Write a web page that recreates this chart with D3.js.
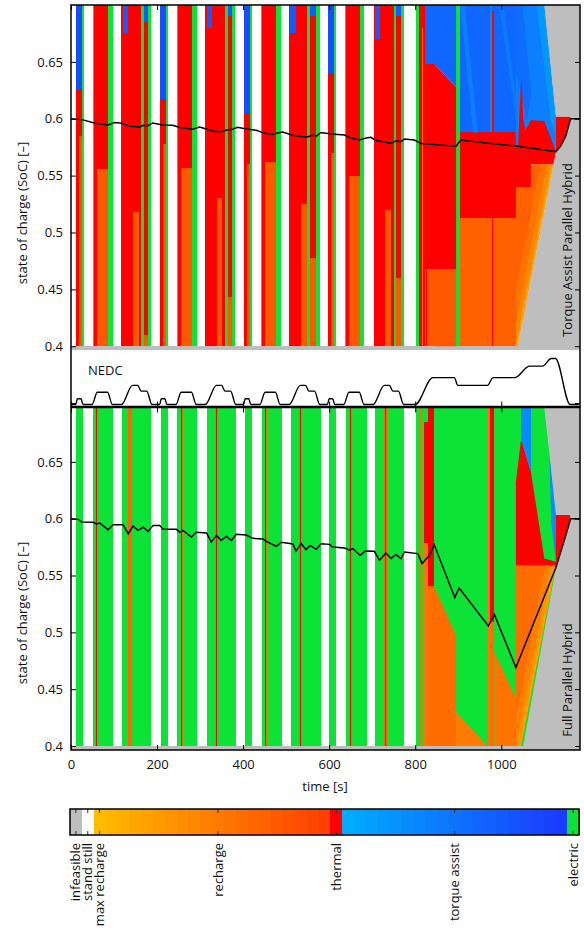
<!DOCTYPE html>
<html>
<head>
<meta charset="utf-8">
<script src="https://cdn.jsdelivr.net/npm/d3@7"></script>
<style>
  body { margin: 0; background: #fff; }
  text { font-family: "Open Sans", sans-serif; font-size: 13px; fill: #111; }
</style>
</head>
<body>
<svg id="chart" width="584" height="934"></svg>
<script>
var timeTicks = [0, 200, 400, 600, 800, 1000]
var taSocTicks = [0.35, 0.4, 0.45, 0.5, 0.55, 0.6, 0.65]
var fpSocTicks = [0.4, 0.45, 0.5, 0.55, 0.6, 0.65]

// NEDC speed trace [km/h]
var nedcTime = [0, 11, 15, 23, 28, 49, 61, 85, 96, 117, 143, 155, 163, 176, 188, 195,
  206, 210, 218, 223, 244, 256, 280, 291, 312, 338, 350, 358, 371, 383, 390,
  401, 405, 413, 418, 439, 451, 475, 486, 507, 533, 545, 553, 566, 578, 585,
  596, 600, 608, 613, 634, 646, 670, 681, 702, 728, 740, 748, 761, 773, 780,
  800, 841, 891, 899, 968, 981, 1031, 1066, 1096, 1116, 1126, 1160, 1180]
var nedcSpeed = [0, 0, 15, 15, 0, 0, 32, 32, 0, 0, 50, 50, 35, 35, 0, 0,
  0, 15, 15, 0, 0, 32, 32, 0, 0, 50, 50, 35, 35, 0, 0,
  0, 15, 15, 0, 0, 32, 32, 0, 0, 50, 50, 35, 35, 0, 0,
  0, 15, 15, 0, 0, 32, 32, 0, 0, 50, 50, 35, 35, 0, 0,
  0, 70, 70, 50, 50, 70, 70, 100, 100, 120, 120, 0, 0]

// optimal SoC trajectories
var taTime = [0, 28, 56, 86, 102, 118, 137, 160, 167, 178, 190, 213, 236, 253, 283, 299, 318, 334, 350, 362,
  376, 387, 408, 431, 445, 468, 480, 492, 515, 535, 550, 559, 571, 581, 605, 636, 647, 670, 686, 697,
  709, 728, 744, 755, 767, 775, 798, 814, 895, 906, 972, 1034, 1127, 1138, 1150, 1161, 1183]
var taSoc = [0.600, 0.599, 0.596, 0.5945, 0.5967, 0.596, 0.5934, 0.5928, 0.5943, 0.5937, 0.5963, 0.5945, 0.5943, 0.5923, 0.5908, 0.5928, 0.5905, 0.5887, 0.5887, 0.5901,
  0.5908, 0.5925, 0.591, 0.5899, 0.5878, 0.5861, 0.5875, 0.5884, 0.5855, 0.5843, 0.584, 0.5855, 0.5849, 0.5879, 0.5866, 0.5857, 0.5835, 0.5813, 0.5831, 0.5837,
  0.5808, 0.5796, 0.5784, 0.5805, 0.5799, 0.5822, 0.5813, 0.5782, 0.5758, 0.5813, 0.5784, 0.576, 0.5711, 0.576, 0.5849, 0.600, 0.600]

var fpTime = [0, 17, 25, 52, 59, 67, 86, 98, 121, 133, 144, 156, 168, 179, 191, 206, 214, 245, 253, 260,
  280, 291, 315, 326, 338, 349, 361, 373, 384, 407, 423, 446, 454, 477, 489, 516, 523, 535, 546, 556,
  570, 581, 601, 608, 636, 647, 655, 672, 684, 705, 717, 732, 744, 755, 767, 775, 806, 816, 833, 844,
  892, 902, 970, 984, 1034, 1127, 1150, 1161, 1183]
var fpSoc = [0.600, 0.5994, 0.597, 0.5968, 0.5953, 0.5961, 0.5903, 0.5947, 0.5947, 0.5868, 0.5935, 0.5897, 0.5926, 0.5888, 0.5941, 0.5941, 0.5906, 0.5906, 0.588, 0.5897,
  0.5838, 0.588, 0.5874, 0.5794, 0.5853, 0.5809, 0.5844, 0.5809, 0.5862, 0.5856, 0.5827, 0.5821, 0.58, 0.5757, 0.5792, 0.5777, 0.5715, 0.578, 0.5728, 0.5765,
  0.573, 0.578, 0.5774, 0.5751, 0.5742, 0.5722, 0.5737, 0.5678, 0.5715, 0.5713, 0.5634, 0.5698, 0.5649, 0.5686, 0.5649, 0.5707, 0.5693, 0.5605, 0.5678, 0.5772,
  0.5306, 0.539, 0.5057, 0.5157, 0.4691, 0.557, 0.5853, 0.600, 0.600]

// optimal mode map: [t0, t1, socLow, socHigh, mode]
// mode: -1.1 infeasible, -1.05 stand still, -1..0 recharge, 0 thermal, 0..1 torque assist, 1 electric
var taCells = [
  [12, 26, 0.4, 0.626, 0], [12, 26, 0.626, 0.7, 0.8], [19, 26, 0.4, 0.585, -0.25], [26, 30, 0.4, 0.7, 1],
  [51, 54, 0.4, 0.7, 1], [54, 61, 0.4, 0.7, 0], [61, 86, 0.556, 0.7, 0], [61, 86, 0.4, 0.556, -0.25], [86, 97, 0.4, 0.7, 1],
  [117, 144, 0.4, 0.7, 0], [120, 132, 0.675, 0.7, 0.7], [144, 157, 0.518, 0.7, 0], [144, 157, 0.4, 0.518, -0.25],
  [157, 162, 0.4, 0.7, 0], [162, 169, 0.4, 0.7, 1], [169, 179, 0.41, 0.685, 0], [169, 179, 0.4, 0.41, -0.25],
  [169, 179, 0.685, 0.7, 0.7], [179, 186, 0.4, 0.7, 1],

  [207, 221, 0.4, 0.617, 0], [207, 221, 0.617, 0.7, 0.8], [214, 221, 0.4, 0.578, -0.25], [221, 225, 0.4, 0.7, 1],
  [246, 249, 0.4, 0.7, 1], [249, 256, 0.4, 0.7, 0], [256, 281, 0.557, 0.7, 0], [256, 281, 0.4, 0.557, -0.25], [281, 292, 0.4, 0.7, 1],
  [312, 339, 0.4, 0.7, 0], [315, 327, 0.68, 0.7, 0.7], [339, 352, 0.53, 0.7, 0], [339, 352, 0.4, 0.53, -0.25],
  [352, 357, 0.4, 0.7, 0], [357, 364, 0.4, 0.7, 1], [364, 374, 0.443, 0.69, 0], [364, 374, 0.4, 0.443, -0.25],
  [364, 374, 0.69, 0.7, 0.7], [374, 381, 0.4, 0.7, 1],

  [402, 416, 0.4, 0.605, 0], [402, 416, 0.605, 0.7, 0.8], [409, 416, 0.4, 0.56, -0.25], [416, 420, 0.4, 0.7, 1],
  [441, 444, 0.4, 0.7, 1], [444, 451, 0.4, 0.7, 0], [451, 476, 0.562, 0.7, 0], [451, 476, 0.4, 0.562, -0.25], [476, 487, 0.4, 0.7, 1],
  [507, 534, 0.4, 0.7, 0], [510, 522, 0.675, 0.7, 0.7], [534, 548, 0.525, 0.7, 0], [534, 548, 0.4, 0.525, -0.25],
  [548, 555, 0.4, 0.7, 1], [555, 570, 0.478, 0.69, 0], [555, 570, 0.4, 0.478, -0.25], [555, 570, 0.69, 0.7, 0.7], [570, 579, 0.4, 0.7, 1],

  [598, 612, 0.4, 0.64, 0], [598, 612, 0.64, 0.7, 0.8], [605, 612, 0.4, 0.57, -0.25], [612, 616, 0.4, 0.7, 1],
  [636, 639, 0.4, 0.7, 1], [639, 646, 0.4, 0.7, 0], [646, 672, 0.55, 0.7, 0], [646, 672, 0.4, 0.55, -0.25], [672, 682, 0.4, 0.7, 1],
  [704, 730, 0.4, 0.7, 0], [706, 718, 0.67, 0.7, 0.7], [730, 743, 0.52, 0.7, 0], [730, 743, 0.4, 0.52, -0.25],
  [743, 750, 0.4, 0.7, 0], [750, 756, 0.4, 0.7, 1], [756, 766, 0.46, 0.69, 0], [756, 766, 0.4, 0.46, -0.25],
  [756, 766, 0.69, 0.7, 0.7], [766, 775, 0.4, 0.7, 1],

  [802, 808, 0.4, 0.7, 1], [808, 822, 0.4, 0.7, 0], [810, 812, 0.4, 0.7, -0.25], [815, 817, 0.4, 0.68, -0.3],
  [822, 845, 0.648, 0.7, 0.6], [822, 845, 0.468, 0.648, 0], [822, 845, 0.4, 0.468, -0.25], [826, 828, 0.4, 0.468, 0],
  [895, 903, 0.4, 0.7, 1],
  [903, 1034, 0.588, 0.7, 0.6], [903, 1034, 0.513, 0.588, 0], [903, 1034, 0.4, 0.513, -0.3],
  [973, 978, 0.588, 0.7, 0.35], [978, 982, 0.513, 0.695, 0], [979, 981, 0.4, 0.513, 0],
  [0, 1190, 0.397, 0.4, -1.1]
]

// mode map polygons: [mode, [[t, soc], ...]]
var taShapes = [
  [0.6, [[845, 0.7], [895, 0.7], [895, 0.628], [845, 0.648]]],
  [0, [[845, 0.648], [895, 0.628], [895, 0.468], [845, 0.468]]],
  [-0.25, [[845, 0.468], [895, 0.468], [895, 0.4], [845, 0.4]]],
  [0.4, [[905, 0.7], [915, 0.7], [945, 0.588], [935, 0.588]]],
  [0.45, [[995, 0.7], [1005, 0.7], [1034, 0.62], [1034, 0.6]]],
  [0.4, [[1034, 0.7], [1100, 0.7], [1127, 0.602], [1127, 0.571], [1034, 0.577]]],
  [0.55, [[1034, 0.7], [1050, 0.7], [1070, 0.62], [1060, 0.6], [1034, 0.64]]],
  [0.2, [[1082, 0.7], [1100, 0.7], [1127, 0.602], [1127, 0.585], [1115, 0.6]]],
  [0, [[1039, 0.576], [1044, 0.62], [1047, 0.636], [1051, 0.6], [1056, 0.59], [1069, 0.599], [1100, 0.598], [1127, 0.5713], [1039, 0.5755]]],
  [0, [[1034, 0.577], [1127, 0.5711], [1127, 0.56], [1069, 0.56], [1069, 0.54], [1034, 0.54]]],
  [-0.3, [[1034, 0.4], [1034, 0.54], [1069, 0.54], [1069, 0.56], [1127, 0.56], [1127, 0.5711], [1038, 0.4]]],
  [-0.45, [[1034, 0.45], [1091, 0.56], [1106, 0.56], [1034, 0.421]]],
  [-0.6, [[1034, 0.421], [1106, 0.56], [1115, 0.56], [1032, 0.4], [1034, 0.4]]],
  [-0.8, [[1032, 0.4], [1115, 0.56], [1121, 0.56], [1038, 0.4]]],
  [0, [[1127, 0.5711], [1127, 0.602], [1161, 0.602], [1161, 0.6], [1150, 0.585], [1138, 0.576]]],
  [-1.1, [[1100, 0.71], [1100, 0.7], [1127, 0.602], [1161, 0.602], [1161, 0.6], [1190, 0.6], [1190, 0.71]]],
  [-1.1, [[1038, 0.397], [1038, 0.4], [1127, 0.5711], [1138, 0.576], [1150, 0.585], [1161.5, 0.6], [1190, 0.6], [1190, 0.397]]]
]

var fpCells = [
  [12, 29, 0.4, 0.71, 1], [50, 97, 0.4, 0.71, 1], [56, 62, 0.4, 0.71, -0.35], [57.5, 59.5, 0.4, 0.71, 0],
  [119, 186, 0.4, 0.71, 1], [133, 141, 0.4, 0.71, -0.35], [136, 138, 0.4, 0.71, 0],
  [209, 226, 0.4, 0.71, 1], [247, 294, 0.4, 0.71, 1], [255, 261, 0.4, 0.71, -0.35], [256.5, 258.5, 0.4, 0.71, 0],
  [316, 383, 0.4, 0.71, 1], [334, 341, 0.4, 0.71, -0.35], [336.5, 338.5, 0.4, 0.71, 0],
  [404, 421, 0.4, 0.71, 1], [443, 490, 0.4, 0.71, 1], [450, 456, 0.4, 0.71, -0.35], [452, 454, 0.4, 0.71, 0],
  [512, 580, 0.4, 0.71, 1], [530, 537, 0.4, 0.71, -0.35], [532.5, 534.5, 0.4, 0.71, 0],
  [600, 617, 0.4, 0.71, 1], [640, 687, 0.4, 0.71, 1], [647, 654, 0.4, 0.71, -0.35], [649.5, 651.5, 0.4, 0.71, 0],
  [707, 775, 0.4, 0.71, 1], [728, 735, 0.4, 0.71, -0.35], [730.5, 732.5, 0.4, 0.71, 0],
  [802, 1127, 0.4, 0.71, 1], [810, 814, 0.4, 0.71, -0.4],
  [820, 829, 0.579, 0.685, 0], [820, 829, 0.4, 0.579, -0.45],
  [830, 843, 0.541, 0.71, 0], [830, 843, 0.4, 0.541, -0.4],
  [969, 973, 0.4, 0.71, -0.45], [973, 983, 0.509, 0.71, 0], [973, 983, 0.4, 0.509, -0.4],
  [0, 1190, 0.39, 0.4, -1.1]
]

var fpShapes = [
  [-0.4, [[843, 0.4], [843, 0.541], [895, 0.4975], [895, 0.4]]],
  [-0.5, [[895, 0.43], [968, 0.4], [895, 0.4]]],
  [-0.45, [[984, 0.4], [984, 0.483], [1034, 0.442], [1034, 0.4]]],
  [-0.4, [[1034, 0.4], [1034, 0.559], [1127, 0.559], [1127, 0.562], [1046, 0.4]]],
  [-0.55, [[1034, 0.4], [1034, 0.424], [1101, 0.558], [1114, 0.558]]],
  [-0.7, [[1034, 0.4], [1114, 0.558], [1121, 0.558], [1041, 0.4]]],
  [-0.85, [[1041, 0.4], [1121, 0.558], [1126, 0.558], [1046, 0.4]]],
  [0, [[1034, 0.632], [1046, 0.67], [1069, 0.641], [1100, 0.565], [1127, 0.562], [1127, 0.559], [1034, 0.559]]],
  [0.3, [[1046, 0.71], [1069, 0.71], [1069, 0.641], [1046, 0.67]]],
  [0.3, [[1100, 0.71], [1108, 0.71], [1116, 0.597], [1127, 0.562], [1127, 0.6035]]],
  [0, [[1127, 0.557], [1127, 0.6035], [1161, 0.6035], [1161, 0.6], [1150, 0.585]]],
  [-1.1, [[1100, 0.71], [1100, 0.698], [1127, 0.6035], [1161, 0.6035], [1161, 0.6], [1190, 0.6], [1190, 0.71]]],
  [-1.1, [[1046, 0.39], [1127, 0.557], [1150, 0.585], [1161.5, 0.6], [1190, 0.6], [1190, 0.39]]]
]

var modeNames = ['infeasible', 'stand still', 'max recharge', 'recharge', 'thermal', 'torque assist', 'electric']
var modeValues = [-1.1, -1.05, -1, -0.5, 0, 0.5, 1]

var svg = d3.select('#chart')

var x = d3.scaleLinear().domain([0, 1183]).range([71, 580])
var yTop = d3.scaleLinear().domain([0.347, 0.7]).range([406.5, 5])
var yBot = d3.scaleLinear().domain([0.3965, 0.6978]).range([750, 407.5])
var v = d3.scaleLinear().domain([0, 120]).range([404.5, 358.5])
var cb = d3.scaleLinear().domain([-1.125, 1.025]).range([70, 579])

var orangeRamp = d3.scaleLinear().domain([-1, -0.05]).range(['#ffbb00', '#ff3f00'])
var blueRamp = d3.scaleLinear().domain([0.05, 0.95]).range(['#00aaff', '#1a3cff'])

function modeColour(u) {
  var q = Math.round(u / 0.05) * 0.05
  if (q < -1.075) return '#bebebe'
  if (q < -1.025) return '#ffffff'
  if (q < -0.025) return orangeRamp(q)
  if (q < 0.025) return '#ff0000'
  if (q < 0.975) return blueRamp(q)
  return '#0de236'
}

function styleAxis(g) {
  g.select('.domain').remove()
  g.selectAll('line').attr('stroke', '#000').attr('stroke-width', 1)
  g.selectAll('text').attr('font-family', '"Open Sans", sans-serif').attr('font-size', 13).attr('fill', '#111')
}

function makePanel(id, y, top, bottom, cells, shapes, lineT, lineS, ticks, showTime) {
  var g = svg.append('g')
  g.append('clipPath').attr('id', id)
    .append('rect').attr('x', 71).attr('y', top).attr('width', 509).attr('height', bottom - top)

  var field = g.append('g').attr('clip-path', 'url(#' + id + ')')

  field.selectAll('rect.cell').data(cells).enter().append('rect')
    .attr('class', 'cell')
    .attr('x', function (d) { return x(d[0]) })
    .attr('width', function (d) { return x(d[1]) - x(d[0]) })
    .attr('y', function (d) { return y(d[3]) })
    .attr('height', function (d) { return y(d[2]) - y(d[3]) })
    .attr('fill', function (d) { return modeColour(d[4]) })
    .attr('shape-rendering', 'crispEdges')

  var poly = d3.line().x(function (p) { return x(p[0]) }).y(function (p) { return y(p[1]) })
  field.selectAll('path.shape').data(shapes).enter().append('path')
    .attr('class', 'shape')
    .attr('d', function (d) { return poly(d[1]) + 'Z' })
    .attr('fill', function (d) { return modeColour(d[0]) })

  if (id == 'clipTop') {
    var speed = d3.line().curve(d3.curveMonotoneX)
      .x(function (d, i) { return x(nedcTime[i]) })
      .y(function (d, i) { return v(nedcSpeed[i]) })
    field.append('path').attr('d', speed(nedcTime))
      .attr('fill', 'none').attr('stroke', '#000').attr('stroke-width', 1.4)
    g.append('text').attr('x', 88).attr('y', 375).text('NEDC')
  }

  var socLine = d3.line()
    .x(function (d, i) { return x(lineT[i]) })
    .y(function (d, i) { return y(lineS[i]) })
  field.append('path').attr('d', socLine(lineT))
    .attr('fill', 'none').attr('stroke', '#000').attr('stroke-width', 1.5)

  g.append('g').attr('transform', 'translate(71,0)')
    .call(d3.axisLeft(y).tickValues(ticks).tickSize(-5).tickPadding(8)
      .tickFormat(function (d) { return d < 0.39 ? '' : String(d) }))
    .call(styleAxis)
  g.append('g').attr('transform', 'translate(580,0)')
    .call(d3.axisRight(y).tickValues(ticks).tickSize(-5).tickFormat(''))
    .call(styleAxis)
  g.append('g').attr('transform', 'translate(0,' + top + ')')
    .call(d3.axisTop(x).tickValues(timeTicks).tickSize(-5).tickFormat(''))
    .call(styleAxis)
  g.append('g').attr('transform', 'translate(0,' + bottom + ')')
    .call(d3.axisBottom(x).tickValues(timeTicks).tickSize(-5).tickPadding(10)
      .tickFormat(showTime ? d3.format('d') : ''))
    .call(styleAxis)

  g.append('rect').attr('x', 71).attr('y', top).attr('width', 509).attr('height', bottom - top)
    .attr('fill', 'none').attr('stroke', '#000').attr('stroke-width', 1.5)
}

makePanel('clipTop', yTop, 5, 406.5, taCells, taShapes, taTime, taSoc, taSocTicks, false)
makePanel('clipBot', yBot, 407.5, 750, fpCells, fpShapes, fpTime, fpSoc, fpSocTicks, true)

// axis titles
svg.append('text').attr('transform', 'translate(22,213) rotate(-90)')
  .attr('text-anchor', 'middle').attr('dominant-baseline', 'central')
  .text('state of charge (SoC) [–]')
svg.append('text').attr('transform', 'translate(22,613) rotate(-90)')
  .attr('text-anchor', 'middle').attr('dominant-baseline', 'central')
  .text('state of charge (SoC) [–]')
svg.append('text').attr('transform', 'translate(567,250) rotate(-90)')
  .attr('text-anchor', 'middle').attr('dominant-baseline', 'central')
  .text('Torque Assist Parallel Hybrid')
svg.append('text').attr('transform', 'translate(567,680) rotate(-90)')
  .attr('text-anchor', 'middle').attr('dominant-baseline', 'central')
  .text('Full Parallel Hybrid')
svg.append('text').attr('x', 325).attr('y', 791).attr('text-anchor', 'middle').text('time [s]')

// colour bar
var cbTop = 809, cbBottom = 835
var steps = d3.range(-22, 21).map(function (i) { return i * 0.05 })
var bar = svg.append('g')
bar.selectAll('rect').data(steps).enter().append('rect')
  .attr('x', function (d) { return cb(d - 0.025) })
  .attr('width', function (d) { return cb(d + 0.025) - cb(d - 0.025) + 0.5 })
  .attr('y', cbTop).attr('height', cbBottom - cbTop)
  .attr('fill', function (d) { return modeColour(d) })
  .attr('shape-rendering', 'crispEdges')

bar.selectAll('line.tt').data(modeValues).enter().append('line')
  .attr('x1', function (d) { return cb(d) }).attr('x2', function (d) { return cb(d) })
  .attr('y1', cbTop).attr('y2', cbTop + 4).attr('stroke', '#333')
bar.selectAll('line.tb').data(modeValues).enter().append('line')
  .attr('x1', function (d) { return cb(d) }).attr('x2', function (d) { return cb(d) })
  .attr('y1', cbBottom - 4).attr('y2', cbBottom).attr('stroke', '#333')

bar.append('rect').attr('x', 70).attr('y', cbTop).attr('width', 509).attr('height', cbBottom - cbTop)
  .attr('fill', 'none').attr('stroke', '#000').attr('stroke-width', 1.5)

bar.selectAll('text').data(modeNames).enter().append('text')
  .attr('transform', function (d, i) { return 'translate(' + cb(modeValues[i]) + ',843) rotate(-90)' })
  .attr('text-anchor', 'end').attr('dy', '0.35em')
  .text(function (d) { return d })
</script>
</body>
</html>
